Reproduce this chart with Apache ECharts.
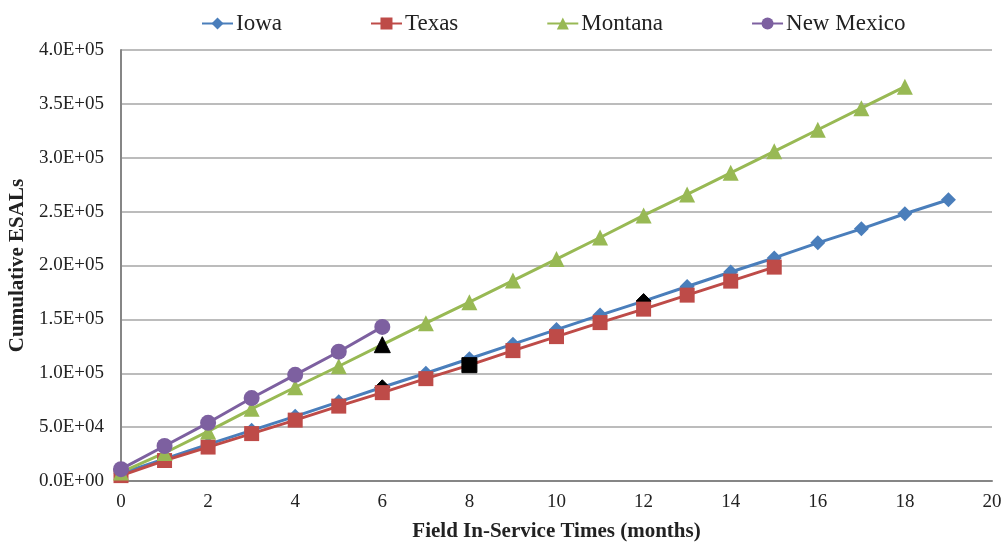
<!DOCTYPE html>
<html>
<head>
<meta charset="utf-8">
<script src="https://cdn.jsdelivr.net/npm/echarts@6/dist/echarts.min.js"></script>
<style>
  html, body { margin: 0; padding: 0; background: #fff; }
  #chart { width: 1008px; height: 544px; }
</style>
</head>
<body>
<div id="chart"></div>
<script>
// Cumulative ESALs by field in-service month, one series per state
const months = [0,1,2,3,4,5,6,7,8,9,10,11,12,13,14,15,16,17,18,19];
const iowa = [7000,20500,34000,47000,60000,73500,87000,100000,113500,127000,140500,154000,167000,180500,194000,207000,221000,234000,248000,261000];
const texas = [5000,19000,31500,44000,56500,69500,82000,95000,107500,121000,134000,147000,159500,172500,185500,198500];
const montana = [8000,26000,46000,67000,87000,106500,126500,146500,166000,186000,206000,226000,246500,266000,286000,306000,326000,346000,366000];
const newMexico = [11000,32500,54000,77000,98500,120000,143000];
// Months flagged with a black marker on each series
const iowaFlagged = [6, 12];
const texasFlagged = [8];
const montanaFlagged = [6];

const yTicks = { min: 0, max: 400000, interval: 50000 };

function sciLabel(v) {
  if (v === 0) return '0.0E+00';
  const exp = Math.floor(Math.log10(v));
  const mant = v / Math.pow(10, exp);
  return mant.toFixed(1) + 'E+' + String(exp).padStart(2, '0');
}

function toPoints(values, flagged) {
  return values.map((v, i) => {
    const p = { value: [months[i], v] };
    if (flagged.includes(months[i])) p.itemStyle = { color: '#000000', borderColor: '#000000' };
    return p;
  });
}

const font = '"Liberation Serif", "Times New Roman", serif';
const ink = '#222222';

function lineSeries(name, values, flagged, color, symbol, size) {
  return {
    name: name,
    type: 'line',
    data: toPoints(values, flagged),
    symbol: symbol,
    symbolSize: size,
    showAllSymbol: true,
    lineStyle: { color: color, width: 3 },
    itemStyle: { color: color },
    emphasis: { disabled: true },
    z: 2
  };
}

const chart = echarts.init(document.getElementById('chart'), null, { renderer: 'canvas' });
chart.setOption({
  animation: false,
  backgroundColor: '#ffffff',
  textStyle: { fontFamily: font },
  legend: {
    top: 7,
    left: 196,
    itemGap: 88,
    itemWidth: 31,
    itemHeight: 15,
    textStyle: { fontFamily: font, fontSize: 23, color: ink, padding: [0, 0, 0, -2] },
    data: ['Iowa', 'Texas', 'Montana', 'New Mexico']
  },
  grid: { left: 121, right: 16, top: 50, bottom: 63, containLabel: false, outerBoundsMode: 'none' },
  xAxis: {
    type: 'value',
    min: 0, max: 20, interval: 2,
    name: 'Field In-Service Times (months)',
    nameLocation: 'middle',
    nameGap: 40,
    nameTextStyle: { fontFamily: font, fontSize: 21, fontWeight: 'bold', color: ink },
    axisLine: { show: true, lineStyle: { color: '#868686', width: 2 } },
    axisTick: { show: false },
    axisLabel: { fontFamily: font, fontSize: 19, color: ink, margin: 12 },
    splitLine: { show: false }
  },
  yAxis: {
    type: 'value',
    min: yTicks.min, max: yTicks.max, interval: yTicks.interval,
    name: 'Cumulative ESALs',
    nameLocation: 'middle',
    nameGap: 92,
    nameTextStyle: { fontFamily: font, fontSize: 21, fontWeight: 'bold', color: ink },
    axisLine: { show: true, lineStyle: { color: '#868686', width: 2 } },
    axisTick: { show: false },
    axisLabel: { fontFamily: font, fontSize: 19, color: ink, margin: 17, formatter: sciLabel },
    splitLine: { show: true, lineStyle: { color: '#a6a6a6', width: 1.5 } }
  },
  series: [
    lineSeries('Iowa', iowa, iowaFlagged, '#4a7ebb', 'diamond', 15),
    lineSeries('Texas', texas, texasFlagged, '#be4b48', 'rect', 15),
    lineSeries('Montana', montana, montanaFlagged, '#98b954', 'triangle', 16),
    lineSeries('New Mexico', newMexico, [], '#7d60a0', 'circle', 16)
  ]
});
</script>
</body>
</html>
